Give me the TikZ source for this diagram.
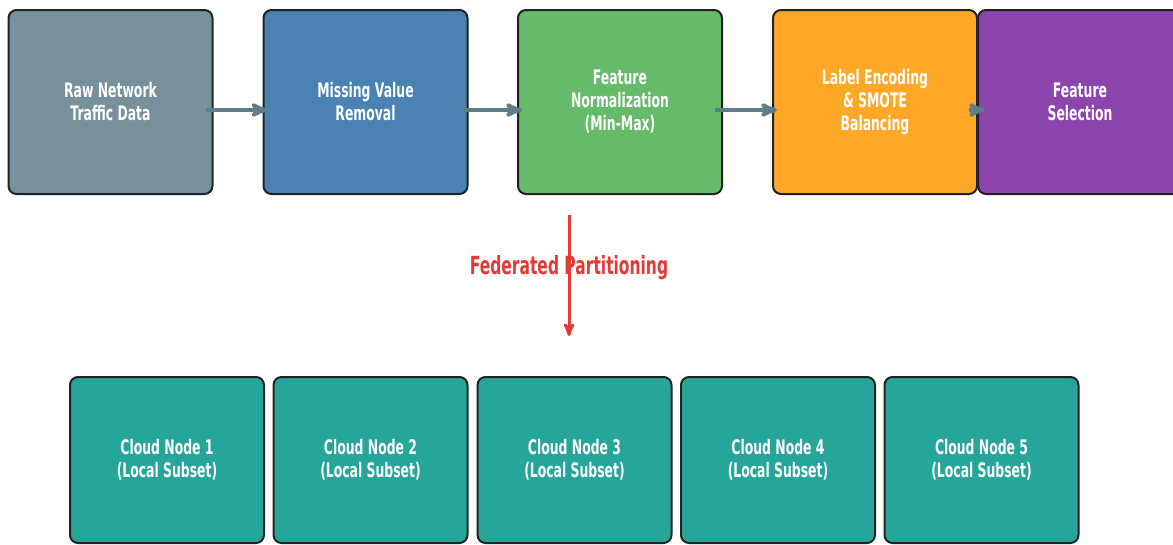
\documentclass[tikz,border=0pt]{standalone}
\usepackage{fontspec}
\setmainfont{DejaVu Sans}[FakeStretch=0.62]
\usepackage{tikz}
\usetikzlibrary{arrows}

\definecolor{rawgray}{HTML}{78909C}
\definecolor{missblue}{HTML}{4A82B2}
\definecolor{normgreen}{HTML}{66BB6A}
\definecolor{encorange}{HTML}{FFA726}
\definecolor{selpurple}{HTML}{8E44AD}
\definecolor{cloudteal}{HTML}{26A69A}
\definecolor{flowgray}{HTML}{607D8B}
\definecolor{partred}{HTML}{E53935}
\definecolor{edgedark}{HTML}{222222}

\begin{document}
\begin{tikzpicture}[x=1pt,y=-1pt,>=stealth',font=\bfseries\fontsize{20}{23}\selectfont]
  \tikzstyle{stage} = [draw=edgedark, line width=2pt, rounded corners=8pt,
                       minimum width=204pt, minimum height=184pt,
                       align=center, text=white, inner sep=0pt]
  \tikzstyle{cloud} = [stage, fill=cloudteal, minimum width=194pt, minimum height=166pt]
  \tikzstyle{flow} = [->, draw=flowgray, line width=4pt]
  \useasboundingbox (0,0) rectangle (1173,544);

  \node [stage, fill=rawgray] (raw) at (110.5,102) {Raw Network\\Traffic Data};
  \node [stage, fill=missblue] (miss) at (365.5,102) {Missing Value\\Removal};
  \node [stage, fill=normgreen] (norm) at (620,102) {Feature\\Normalization\\(Min-Max)};
  \node [stage, fill=encorange] (enc) at (875,102) {Label Encoding\\\& SMOTE\\Balancing};
  \node [stage, fill=selpurple] (sel) at (1080,102) {Feature\\Selection};

  \draw [flow] ([xshift=-8pt,yshift=-8pt]raw.east) -- ([xshift=5pt,yshift=-8pt]miss.west);
  \draw [flow] ([xshift=-8pt,yshift=-8pt]miss.east) -- ([xshift=5pt,yshift=-8pt]norm.west);
  \draw [flow] ([xshift=-8pt,yshift=-8pt]norm.east) -- ([xshift=5pt,yshift=-8pt]enc.west);
  \draw [flow] ([xshift=-9pt,yshift=-8pt]enc.east) -- ([xshift=8pt,yshift=-8pt]sel.west);

  % partitioning step
  \coordinate (split) at (569,215);
  \coordinate (down) at (569,336);
  \draw [->, draw=partred, line width=3pt] (split) -- (down);
  \node [text=partred, font=\bfseries\fontsize{25}{28}\selectfont] (part) at (569,268) {Federated Partitioning};

  \foreach \i/\x in {1/167,2/370.5,3/574.5,4/778,5/981.5}
    \node [cloud] (cloud\i) at (\x,460) {Cloud Node \i\\(Local Subset)};
\end{tikzpicture}
\end{document}
